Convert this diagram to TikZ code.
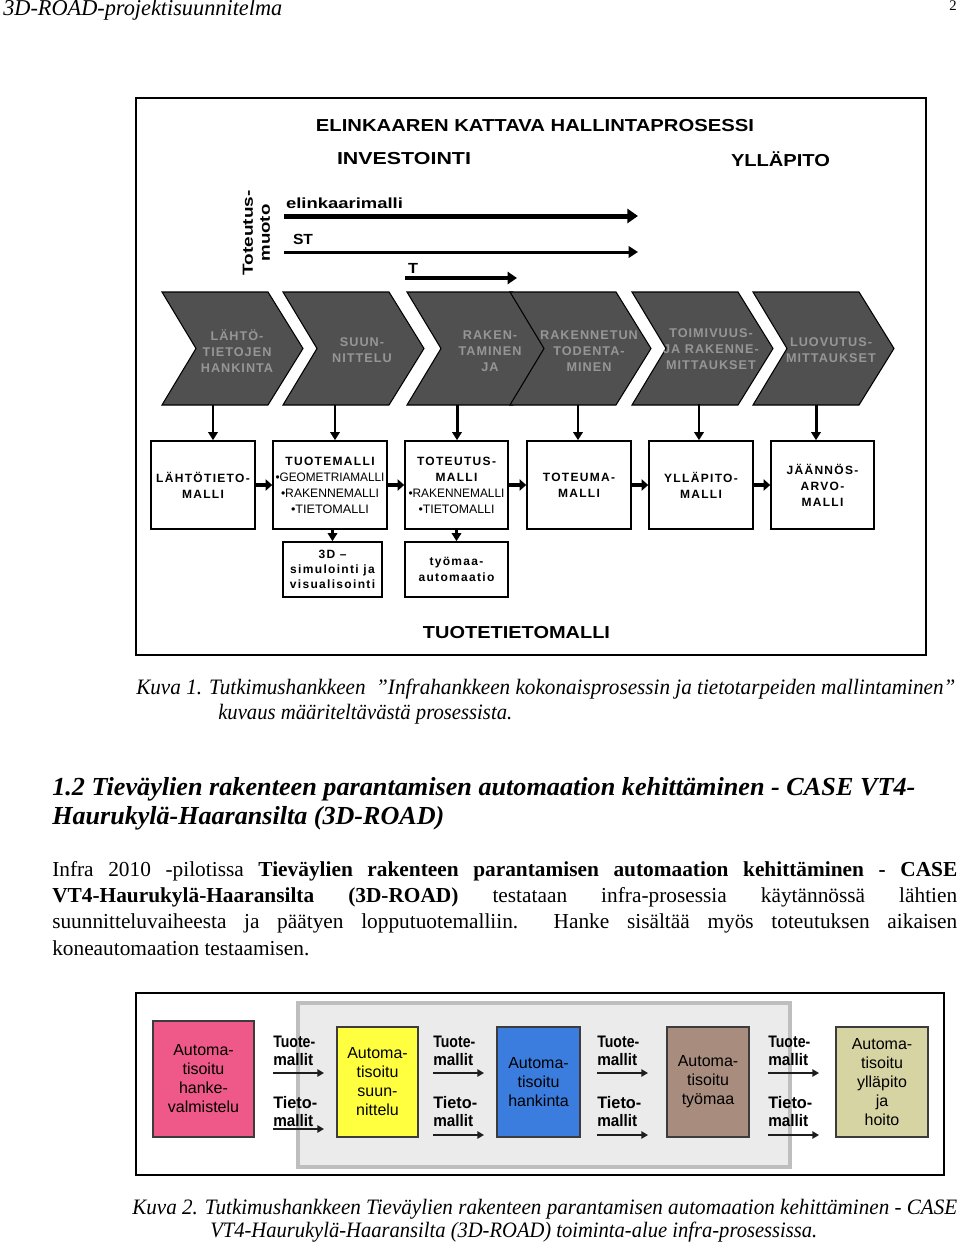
\documentclass[tikz,border=0pt]{standalone}
\usepackage{fontspec}
\setmainfont{Liberation Serif}
\setsansfont{Liberation Sans}
\newfontfamily\lsp{Liberation Sans}[LetterSpace=11]
\newfontfamily\lspc{Liberation Sans}[LetterSpace=8]
\usetikzlibrary{arrows.meta}
\newcommand\fw[2]{\resizebox{\dimexpr #1pt*3/4\relax}{\height}{#2}}
\newcommand\subi[2]{{\mdseries\sffamily\fontsize{9.2}{11}\selectfont\fw{#1}{#2}}}
\definecolor{chevfill}{RGB}{80,80,80}
\definecolor{chevtext}{RGB}{150,150,150}
\definecolor{pinkc}{RGB}{239,89,137}
\definecolor{yellowc}{RGB}{255,255,64}
\definecolor{bluec}{RGB}{58,125,222}
\definecolor{brownc}{RGB}{168,140,126}
\definecolor{olivec}{RGB}{214,212,163}
\definecolor{pborder}{RGB}{60,60,60}
\definecolor{grayfill}{RGB}{235,235,235}
\definecolor{grayline}{RGB}{190,190,190}
\begin{document}
\begin{tikzpicture}[x=0.75pt,y=-0.75pt,
  hd/.style={font=\sffamily\bfseries\fontsize{13}{15}\selectfont, inner sep=0},
  lab/.style={font=\sffamily\bfseries\fontsize{11}{13}\selectfont, inner sep=0},
  chev/.style={fill=chevfill, draw=black, line width=0.8pt},
  chevtxt/.style={font=\lspc\bfseries\fontsize{9.5}{12}\selectfont, text=chevtext, align=center, inner sep=0},
  mbox/.style={draw=black, line width=1.2pt, align=center, inner sep=0, font=\lsp\bfseries\fontsize{9}{12}\selectfont},
  varrow/.style={line width=1.5pt, -{Triangle[length=6pt,width=7pt]}},
  harrow/.style={line width=3pt, -{Triangle[length=5pt,width=8.5pt]}},
  captxt/.style={font=\itshape\fontsize{16.5}{19}\selectfont, inner sep=0, anchor=west},
  body/.style={font=\fontsize{16}{19.3}\selectfont, inner sep=0, anchor=west},
  pbox/.style={draw=pborder, line width=1pt, align=center, inner sep=0, font=\sffamily\fontsize{12}{14.25}\selectfont},
  lbl/.style={font=\sffamily\bfseries\fontsize{12.5}{13.5}\selectfont, align=left, inner sep=0, anchor=west},
  parrow/.style={draw={rgb,255:red,30;green,30;blue,30}, line width=1.3pt, -{Triangle[length=5pt,width=5.5pt]}}
]
\useasboundingbox (0,0) rectangle (960,1245);
\fill[white] (0,0) rectangle (960,1245);

% page header
\node[anchor=west, inner sep=0, font=\itshape\fontsize{17}{20}\selectfont] (hdr) at (3,10) {\fw{279}{3D-ROAD-projektisuunnitelma}};
\node[inner sep=0, font=\fontsize{11}{13}\selectfont] (pg) at (953,6) {2};

% figure 1 frame
\draw[line width=1.5pt] (136,98) rectangle (926,655);
\node[hd] (t1) at (535,126) {\fw{438}{ELINKAAREN KATTAVA HALLINTAPROSESSI}};
\node[hd] (t2) at (404,159) {\fw{134}{INVESTOINTI}};
\node[hd] (t3) at (780.5,159) {\fw{99}{YLLÄPITO}};
\node[hd] (t4) at (516.5,633) {\fw{187}{TUOTETIETOMALLI}};

\node[rotate=90, font=\sffamily\bfseries\fontsize{11}{12.75}\selectfont, align=center, inner sep=0] (tm) at (256.5,233) {\fw{85}{Toteutus-}\\\fw{57}{muoto}};

\node[lab] (l1) at (344.5,203) {\fw{117}{elinkaarimalli}};
\node[lab] (l2) at (303,239) {\fw{20}{ST}};
\node[lab] (l3) at (413,268) {\fw{10}{T}};
\coordinate (a1s) at (284,216); \coordinate (a1e) at (638,216);
\coordinate (a2s) at (284,252); \coordinate (a2e) at (638,252);
\coordinate (a3s) at (405,278); \coordinate (a3e) at (517,278);
\draw[line width=3.75pt, -{Triangle[length=8pt,width=10.5pt]}] (a1s) -- (a1e);
\draw[line width=2.25pt, -{Triangle[length=7pt,width=8.5pt]}] (a2s) -- (a2e);
\draw[line width=3pt, -{Triangle[length=7pt,width=9pt]}] (a3s) -- (a3e);

% chevrons
\foreach \x in {162,283,407,510,632,753}{
  \draw[chev] (\x,292) -- ++(106,0) -- ++(35,56.5) -- ++(-35,56.5) -- ++(-106,0) -- ++(34,-56.5) -- cycle;
}
\node[chevtxt] (c1) at (237,351) {LÄHTÖ-\\TIETOJEN\\HANKINTA};
\node[chevtxt] (c2) at (362,350.5) {SUUN-\\NITTELU};
\node[chevtxt] (c3) at (490,351) {RAKEN-\\TAMINEN\\JA};
\node[chevtxt] (c4) at (589,351) {RAKENNETUN\\TODENTA-\\MINEN};
\node[chevtxt] (c5) at (711,349) {TOIMIVUUS-\\JA RAKENNE-\\MITTAUKSET};
\node[chevtxt] (c6) at (831,350) {LUOVUTUS-\\MITTAUKSET};

% model boxes
\node[mbox, minimum width=78pt, minimum height=66pt] (b1) at (203,485) {LÄHTÖTIETO-\\MALLI};
\node[mbox, minimum width=85.5pt, minimum height=66pt] (b2) at (330,485) {TUOTEMALLI\\\subi{109}{•GEOMETRIAMALLI}\\\subi{98}{•RAKENNEMALLI}\\\subi{78}{•TIETOMALLI}};
\node[mbox, minimum width=77.25pt, minimum height=66pt] (b3) at (456.5,485) {TOTEUTUS-\\MALLI\\\subi{96}{•RAKENNEMALLI}\\\subi{76}{•TIETOMALLI}};
\node[mbox, minimum width=78pt, minimum height=66pt] (b4) at (579,485) {TOTEUMA-\\MALLI};
\node[mbox, minimum width=78pt, minimum height=66pt] (b5) at (701,485) {YLLÄPITO-\\MALLI};
\node[mbox, minimum width=77.25pt, minimum height=66pt] (b6) at (822.5,485) {JÄÄNNÖS-\\ARVO-\\MALLI};
\node[mbox, minimum width=74.25pt, minimum height=41.25pt, font=\lsp\bfseries\fontsize{9}{11.5}\selectfont] (s1) at (332.5,569.5) {3D –\\simulointi ja\\visualisointi};
\node[mbox, minimum width=77.25pt, minimum height=41.25pt, font=\lsp\bfseries\fontsize{9}{11.5}\selectfont] (s2) at (456.5,569.5) {työmaa-\\automaatio};

% chevron -> box arrows
\coordinate (cb1) at (213,405);
\coordinate (cb2) at (335,405);
\coordinate (cb3) at (457,405);
\coordinate (cb4) at (578,405);
\coordinate (cb5) at (699,404);
\coordinate (cb6) at (816,405);
\draw[varrow] (cb1) -- (cb1 |- b1.north);
\draw[varrow] (cb2) -- (cb2 |- b2.north);
\draw[varrow, line width=2.25pt] (cb3) -- (cb3 |- b3.north);
\draw[varrow] (cb4) -- (cb4 |- b4.north);
\draw[varrow] (cb5) -- (cb5 |- b5.north);
\draw[varrow, line width=2.25pt] (cb6) -- (cb6 |- b6.north);

% box -> box arrows
\draw[harrow] (b1.east) -- (b2.west);
\draw[harrow] (b2.east) -- (b3.west);
\draw[harrow] (b3.east) -- (b4.west);
\draw[harrow] (b4.east) -- (b5.west);
\draw[harrow] (b5.east) -- (b6.west);
\draw[varrow, line width=2.25pt] (s1.north |- b2.south) -- (s1.north);
\draw[varrow, line width=2.25pt] (s2.north |- b3.south) -- (s2.north);

% caption 1
\node[captxt] (k1a) at (136,689) {\fw{819}{Kuva 1. Tutkimushankkeen\ \ ”Infrahankkeen kokonaisprosessin ja tietotarpeiden mallintaminen”}};
\node[captxt] (k1b) at (218,714) {\fw{294}{kuvaus määriteltävästä prosessista.}};

% heading
\node[inner sep=0, anchor=west, font=\bfseries\itshape\fontsize{19.5}{23}\selectfont] (h1) at (52,789) {\fw{863}{1.2 Tieväylien rakenteen parantamisen automaation kehittäminen - CASE VT4-}};
\node[inner sep=0, anchor=west, font=\bfseries\itshape\fontsize{19.5}{23}\selectfont] (h2) at (52,818) {\fw{392}{Haurukylä-Haaransilta (3D-ROAD)}};

% body
\node[body] (p1) at (52,871) {\makebox[678.75pt][s]{Infra 2010 -pilotissa \textbf{Tieväylien rakenteen parantamisen automaation kehittäminen - CASE}}};
\node[body] (p2) at (52,897) {\makebox[678.75pt][s]{\textbf{VT4-Haurukylä-Haaransilta (3D-ROAD)} testataan infra-prosessia käytännössä lähtien}};
\node[body] (p3) at (52,923) {\makebox[678.75pt][s]{suunnitteluvaiheesta ja päätyen lopputuotemalliin.\ \ Hanke sisältää myös toteutuksen aikaisen}};
\node[body] (p4) at (52,948) {koneautomaation testaamisen.};

% figure 2
\draw[line width=1.2pt] (136,993) rectangle (944,1175);
\draw[fill=grayfill, draw=grayline, line width=2.5pt] (298,1003) rectangle (790,1167);
\node[pbox, fill=pinkc, minimum width=75.75pt, minimum height=87pt] (q1) at (203.5,1079) {Automa-\\tisoitu\\hanke-\\valmistelu};
\node[pbox, fill=yellowc, minimum width=60.75pt, minimum height=82.5pt] (q2) at (377.5,1082) {Automa-\\tisoitu\\suun-\\nittelu};
\node[pbox, fill=bluec, minimum width=62.25pt, minimum height=82.5pt] (q3) at (538.5,1082) {Automa-\\tisoitu\\hankinta};
\node[pbox, fill=brownc, minimum width=61.5pt, minimum height=82.5pt] (q4) at (708,1082) {Automa-\\tisoitu\\työmaa};
\node[pbox, fill=olivec, minimum width=69pt, minimum height=82.5pt] (q5) at (882,1082) {Automa-\\tisoitu\\ylläpito\\ja\\hoito};

\foreach \x/\i/\ly in {273/1/1129,433/2/1135,597/3/1135,768/4/1135}{
  \node[lbl] (tu\i) at (\x,1051) {\fw{42}{Tuote-}\\\fw{40}{mallit}};
  \node[lbl] (ti\i) at (\x,1112) {\fw{44}{Tieto-}\\\fw{40}{mallit}};
  \coordinate (ua\i) at (\x,1073);
  \coordinate (ub\i) at (\x+51,1073);
  \coordinate (la\i) at (\x,\ly);
  \coordinate (lb\i) at (\x+51,\ly);
  \draw[parrow] (ua\i) -- (ub\i);
  \draw[parrow] (la\i) -- (lb\i);
}

% caption 2
\node[captxt] (k2a) at (132,1209) {\fw{825}{Kuva 2. Tutkimushankkeen Tieväylien rakenteen parantamisen automaation kehittäminen - CASE}};
\node[captxt] (k2b) at (210,1232) {\fw{607}{VT4-Haurukylä-Haaransilta (3D-ROAD) toiminta-alue infra-prosessissa.}};
\end{tikzpicture}
\end{document}
